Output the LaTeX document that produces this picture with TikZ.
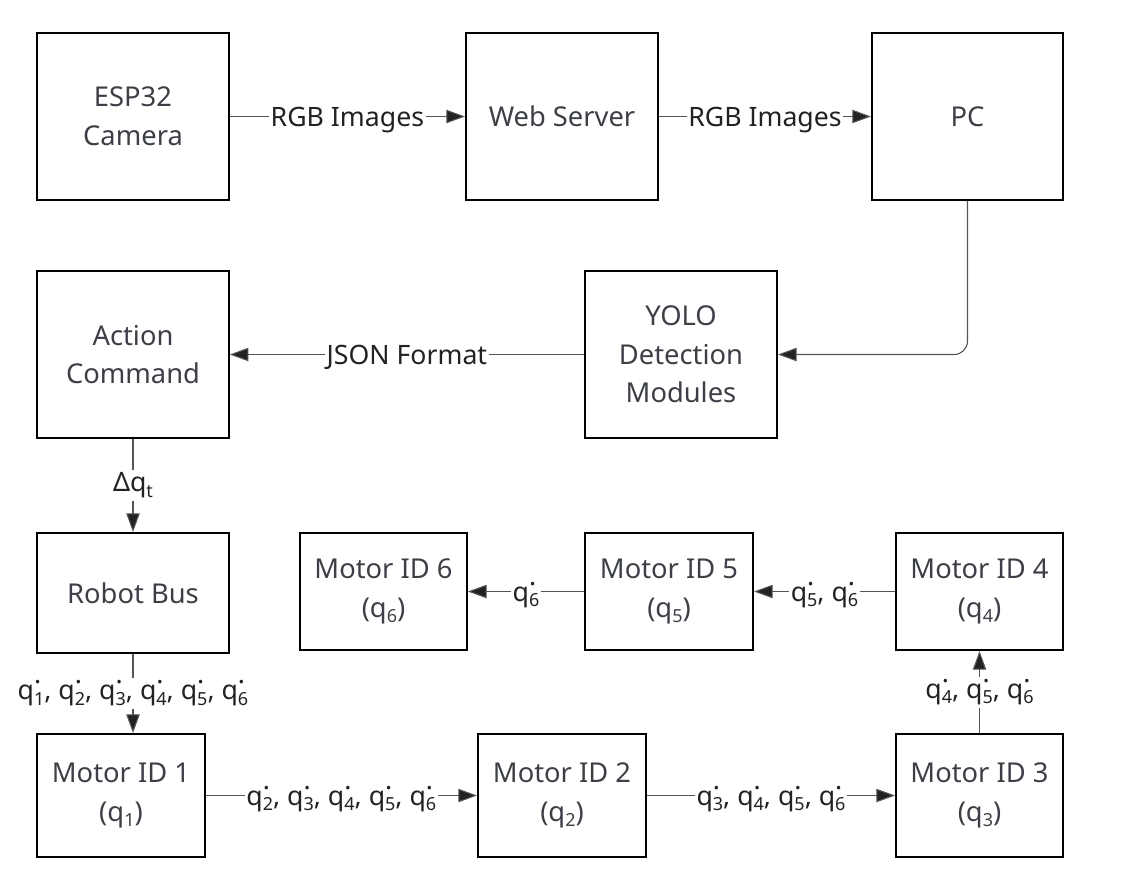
\documentclass[tikz,border=0pt]{standalone}
\usepackage{fontspec}
\setmainfont{Noto Sans}
\usetikzlibrary{arrows.meta}
\definecolor{boxtext}{HTML}{3C4046}
\definecolor{linegray}{HTML}{555555}
\definecolor{labtext}{HTML}{222222}
\newcommand\subd[1]{\raisebox{-0.2em}{\fontsize{13.5}{13.5}\selectfont #1}}
\newcommand\qd[1]{q\rlap{\raisebox{0.6em}{.}}\subd{#1}}
\newcommand\qs[1]{q\subd{#1}}
\tikzset{
  box/.style={draw=black, line width=1.5pt, align=center, text=boxtext,
    inner sep=0pt, font=\fontsize{20.5}{29}\selectfont},
  conn/.style={draw=linegray, line width=0.8pt,
    -{Triangle[length=14pt,width=10pt,fill=labtext]}},
  labv/.style={fill=white, inner xsep=1.2pt, inner ysep=2pt, text=labtext,
    font=\fontsize{20}{22}\selectfont},
  lab/.style={labv, text depth=0pt},
}
\begin{document}
\begin{tikzpicture}[x=0.75pt,y=-0.75pt]
\useasboundingbox (0,0) rectangle (1126,890);
% row 1
\node[box, minimum width=143.6pt, minimum height=125.2pt] (esp) at (133,116.5) {ESP32\\Camera};
\node[box, minimum width=144pt, minimum height=125.2pt] (web) at (562,116.5) {Web Server};
\node[box, minimum width=143.3pt, minimum height=125.2pt] (pc) at (967.5,116.5) {PC};
% row 2
\node[box, minimum width=143.6pt, minimum height=125.2pt] (act) at (133,354.5) {Action\\Command};
\node[box, minimum width=144pt, minimum height=125.2pt] (yolo) at (681,354.5) {YOLO\\Detection\\Modules};
% row 3
\node[box, minimum width=143.6pt, minimum height=90pt] (bus) at (133,593) {Robot Bus};
\node[box, minimum width=125.2pt, minimum height=87.8pt] (m6) at (383.5,591.5) {Motor ID 6\\(\qs{6})};
\node[box, minimum width=126pt, minimum height=87.8pt] (m5) at (669,591.5) {Motor ID 5\\(\qs{5})};
\node[box, minimum width=125.2pt, minimum height=87.8pt] (m4) at (979.5,591.5) {Motor ID 4\\(\qs{4})};
% row 4
\node[box, minimum width=125.6pt, minimum height=92.2pt] (m1) at (121,795.5) {Motor ID 1\\(\qs{1})};
\node[box, minimum width=126pt, minimum height=92.2pt] (m2) at (562,795.5) {Motor ID 2\\(\qs{2})};
\node[box, minimum width=125.2pt, minimum height=92.2pt] (m3) at (979.5,795.5) {Motor ID 3\\(\qs{3})};
% connectors
\draw[conn] (esp) -- node[lab] {RGB Images} (web);
\draw[conn] (web) -- node[lab] {RGB Images} (pc);
\draw[conn, rounded corners=10pt] (pc.south) |- (yolo.east);
\draw[conn] (yolo) -- node[lab] {JSON Format} (act);
\draw[conn] (act) -- node[labv] {Δ\qs{t}} (bus);
\draw[conn] (bus.south) -- node[labv] {\qd{1}, \qd{2}, \qd{3}, \qd{4}, \qd{5}, \qd{6}} (bus.south |- m1.north);
\draw[conn] (m1) -- node[lab] {\qd{2}, \qd{3}, \qd{4}, \qd{5}, \qd{6}} (m2);
\draw[conn] (m2) -- node[lab] {\qd{3}, \qd{4}, \qd{5}, \qd{6}} (m3);
\draw[conn] (m3) -- node[labv] {\qd{4}, \qd{5}, \qd{6}} (m4);
\draw[conn] (m4) -- node[lab] {\qd{5}, \qd{6}} (m5);
\draw[conn] (m5) -- node[lab] {\qd{6}} (m6);
\end{tikzpicture}
\end{document}
